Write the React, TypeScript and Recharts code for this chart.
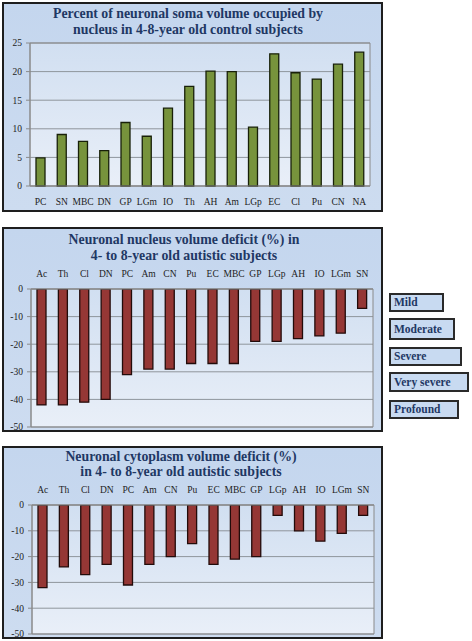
import React from 'react'
import { BarChart, Bar, XAxis, YAxis, CartesianGrid, ReferenceArea } from 'recharts'

// panel 1: nucleus share of soma volume, control subjects
const controlRegions = ['PC', 'SN', 'MBC', 'DN', 'GP', 'LGm', 'IO', 'Th', 'AH', 'Am', 'LGp', 'EC', 'Cl', 'Pu', 'CN', 'NA']
const controlPercent = [4.9, 9.0, 7.8, 6.2, 11.1, 8.7, 13.6, 17.4, 20.1, 20.0, 10.3, 23.1, 19.8, 18.7, 21.3, 23.4]
const controlTicks = [0, 5, 10, 15, 20, 25]

// panels 2 and 3 share the same region order
const autismRegions = ['Ac', 'Th', 'Cl', 'DN', 'PC', 'Am', 'CN', 'Pu', 'EC', 'MBC', 'GP', 'LGp', 'AH', 'IO', 'LGm', 'SN']
const nucleusDeficit = [-42, -42, -41, -40, -31, -29, -29, -27, -27, -27, -19, -19, -18, -17, -16, -7]
const cytoplasmDeficit = [-32, -24, -27, -23, -31, -23, -20, -15, -23, -21, -20, -4, -10, -14, -11, -4]
const deficitTicks = [-50, -40, -30, -20, -10, 0]

const severityLabels = ['Mild', 'Moderate', 'Severe', 'Very severe', 'Profound']

const serif = '"Liberation Serif", "Times New Roman", serif'
const navy = '#1f3864'

const toRows = (names: string[], vals: number[]) => names.map((name, i) => ({ name, value: vals[i] }))

const tickStyle = { fontFamily: serif, fontSize: 9.5, fill: '#222' }

function Panel({ top, height }: { top: number; height: number }) {
  return (
    <div
      style={{
        position: 'absolute',
        left: 2,
        top,
        width: 381,
        height,
        boxSizing: 'border-box',
        border: '2px solid #1e1e1e',
        background: 'linear-gradient(#c4d6ee, #cddcf0)',
      }}
    />
  )
}

function Title({ lines, top, center, lh }: { lines: string[]; top: number; center: number; lh: number }) {
  return (
    <div
      style={{
        position: 'absolute',
        left: center - 200,
        top,
        width: 400,
        textAlign: 'center',
        fontFamily: serif,
        fontWeight: 'bold',
        fontSize: 13.8,
        lineHeight: `${lh}px`,
        color: navy,
      }}
    >
      {lines.map((l) => (
        <div key={l}>{l}</div>
      ))}
    </div>
  )
}

function Gradient({ id }: { id: string }) {
  return (
    <defs>
      <linearGradient id={id} x1="0" y1="0" x2="0" y2="1">
        <stop offset="0%" stopColor="#d1dff1" />
        <stop offset="100%" stopColor="#e9eff8" />
      </linearGradient>
    </defs>
  )
}

function DeficitChart({ data, top, height, marginTop, yWidth, right, gid }: any) {
  return (
    <div style={{ position: 'absolute', left: 0, top }}>
      <BarChart width={385} height={height} data={data} margin={{ top: marginTop, right, bottom: 5, left: 0 }}>
        <Gradient id={gid} />
        <CartesianGrid vertical={false} stroke="#8f959c" fill={`url(#${gid})`} />
        <XAxis
          dataKey="name"
          orientation="top"
          height={20}
          interval={0}
          tick={tickStyle}
          tickLine={false}
          tickMargin={6}
          axisLine={{ stroke: '#8a8a8a' }}
        />
        <YAxis
          domain={[-50, 0]}
          ticks={deficitTicks}
          width={yWidth}
          tick={tickStyle}
          tickLine={{ stroke: '#8a8a8a' }}
          tickSize={4}
          tickMargin={4}
          axisLine={{ stroke: '#8a8a8a' }}
          allowDataOverflow
        />
        <Bar dataKey="value" fill="#953735" stroke="#220b0a" strokeWidth={1.3} barSize={9} isAnimationActive={false} />
        <ReferenceArea y1={-50} y2={0} fill="none" stroke="#8a8a8a" />
      </BarChart>
    </div>
  )
}

export default function App() {
  const control = toRows(controlRegions, controlPercent)
  const nucleus = toRows(autismRegions, nucleusDeficit)
  const cytoplasm = toRows(autismRegions, cytoplasmDeficit)

  const legendBoxes = [
    { top: 293, w: 55, h: 19 },
    { top: 318, w: 66, h: 22 },
    { top: 347, w: 73, h: 19 },
    { top: 372, w: 80, h: 20 },
    { top: 400, w: 70, h: 19 },
  ]

  return (
    <div style={{ position: 'absolute', left: 0, top: 0, width: 472, height: 641, background: '#fff' }}>
      {/* top panel */}
      <Panel top={2} height={210} />
      <div style={{ position: 'absolute', left: 0, top: 0 }}>
        <BarChart width={385} height={212} data={control} margin={{ top: 43, right: 15, bottom: 6, left: 0 }}>
          <Gradient id="bgTop" />
          <CartesianGrid vertical={false} stroke="#8f959c" fill="url(#bgTop)" />
          <XAxis
            dataKey="name"
            height={20}
            interval={0}
            tick={tickStyle}
            tickLine={false}
            tickMargin={6}
            axisLine={{ stroke: '#8a8a8a' }}
          />
          <YAxis
            domain={[0, 25]}
            ticks={controlTicks}
            width={30}
            tick={tickStyle}
            tickLine={{ stroke: '#8a8a8a' }}
            tickSize={4}
            tickMargin={4}
            axisLine={{ stroke: '#8a8a8a' }}
          />
          <Bar dataKey="value" fill="#77933c" stroke="#182009" strokeWidth={1.3} barSize={9} isAnimationActive={false} />
          <ReferenceArea y1={0} y2={25} fill="none" stroke="#8a8a8a" />
        </BarChart>
      </div>
      <Title
        lines={['Percent of neuronal soma volume occupied by', 'nucleus in 4-8-year old control subjects']}
        top={6}
        center={188}
        lh={16}
      />

      {/* middle panel */}
      <Panel top={227} height={205} />
      <DeficitChart data={nucleus} top={227} height={205} marginTop={42} yWidth={31} right={12} gid="bgMid" />
      <Title
        lines={['Neuronal nucleus volume deficit (%) in', '4- to 8-year old autistic subjects']}
        top={232}
        center={184}
        lh={16}
      />

      {/* bottom panel */}
      <Panel top={446} height={193} />
      <DeficitChart data={cytoplasm} top={446} height={193} marginTop={39} yWidth={32} right={11} gid="bgBot" />
      <Title
        lines={['Neuronal cytoplasm volume deficit (%)', 'in 4- to 8-year old autistic subjects']}
        top={449}
        center={181}
        lh={15}
      />

      {/* severity boxes */}
      {severityLabels.map((label, i) => (
        <div
          key={label}
          style={{
            position: 'absolute',
            left: 389,
            top: legendBoxes[i].top,
            width: legendBoxes[i].w,
            height: legendBoxes[i].h,
            boxSizing: 'border-box',
            border: '2px solid #2a2a2a',
            background: '#c8daf1',
            fontFamily: serif,
            fontWeight: 'bold',
            fontSize: 11.5,
            color: navy,
            lineHeight: `${legendBoxes[i].h - 4}px`,
            paddingLeft: 3,
            whiteSpace: 'nowrap',
          }}
        >
          {label}
        </div>
      ))}
    </div>
  )
}
